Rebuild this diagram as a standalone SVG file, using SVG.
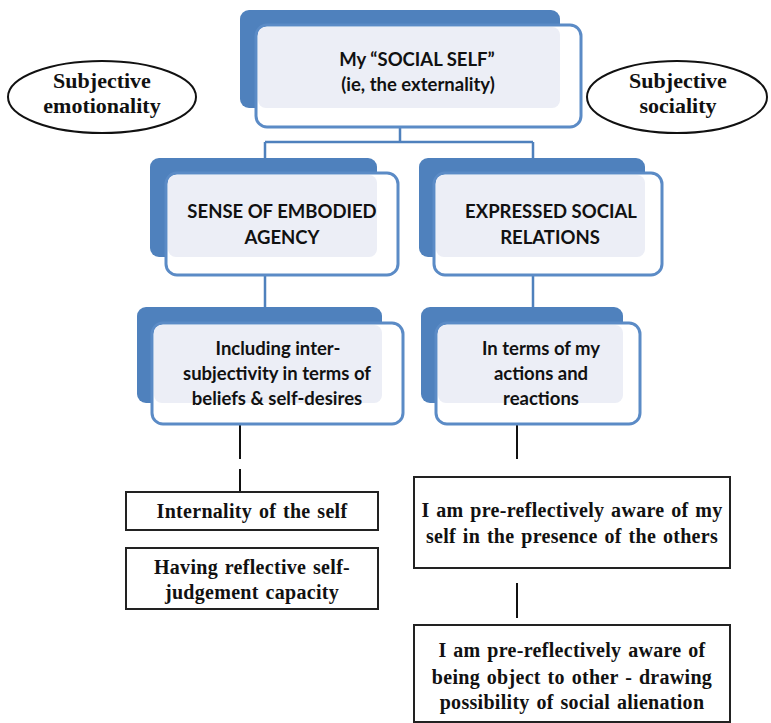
<svg xmlns="http://www.w3.org/2000/svg" width="771" height="723" viewBox="0 0 771 723">
<style>
.back{fill:#4f81bd}
.front{fill:#ffffff;stroke:#5b8bc6;stroke-width:3}
.tint{fill:#eceef6}
.conn{stroke:#4f81bd;stroke-width:2.5;fill:none}
.blk{stroke:#111;stroke-width:2;fill:none}
.box{fill:#fff;stroke:#222;stroke-width:2}
.ell{fill:#fff;stroke:#111;stroke-width:2}
.bt{font-family:Lato,"Open Sans","Liberation Sans",sans-serif;font-weight:bold;font-size:18.5px;fill:#111;text-anchor:middle}
.tt{font-family:"Liberation Serif","Times New Roman",serif;font-weight:bold;font-size:20px;letter-spacing:0.3px;word-spacing:1.5px;fill:#111;text-anchor:middle}
.et{font-family:"Liberation Serif","Times New Roman",serif;font-weight:bold;font-size:22px;fill:#111;text-anchor:middle}
</style>
<rect width="771" height="723" fill="#fff"/>
<g id="connectors">
<path class="conn" d="M400 127V142M265 142H533M265 142V160M533 142V160"/>
<path class="conn" d="M265 275V309M533 275V309"/>
<path class="blk" d="M240 424V459M240 469V492"/>
<path class="blk" d="M517 424V459M517 583V618"/>
</g>
<g id="social-self">
<rect class="back" x="240" y="10" width="320" height="98" rx="9"/>
<rect class="front" x="256" y="25" width="325" height="102" rx="11"/>
<rect class="tint" x="258" y="27" width="302" height="81" rx="8"/>
<text class="bt" x="417" y="66">My “SOCIAL SELF”</text>
<text class="bt" x="418" y="91">(ie, the externality)</text>
</g>
<g id="embodied-agency">
<rect class="back" x="150" y="158" width="227" height="99" rx="9"/>
<rect class="front" x="166" y="173" width="232" height="102" rx="11"/>
<rect class="tint" x="168" y="175" width="209" height="82" rx="8"/>
<text class="bt" x="282" y="218">SENSE OF EMBODIED</text>
<text class="bt" x="282" y="244">AGENCY</text>
</g>
<g id="social-relations">
<rect class="back" x="419" y="158" width="226" height="99" rx="9"/>
<rect class="front" x="434" y="173" width="228" height="102" rx="11"/>
<rect class="tint" x="436" y="175" width="209" height="82" rx="8"/>
<text class="bt" x="551" y="218">EXPRESSED SOCIAL</text>
<text class="bt" x="550" y="244">RELATIONS</text>
</g>
<g id="intersubjectivity">
<rect class="back" x="137" y="307" width="245" height="96" rx="9"/>
<rect class="front" x="152" y="323" width="251" height="101" rx="11"/>
<rect class="tint" x="154" y="325" width="228" height="78" rx="8"/>
<text class="bt" x="278" y="355">Including inter-</text>
<text class="bt" x="277" y="380">subjectivity in terms of</text>
<text class="bt" x="277" y="405">beliefs &amp; self-desires</text>
</g>
<g id="actions">
<rect class="back" x="421" y="307" width="202" height="96" rx="9"/>
<rect class="front" x="436" y="323" width="204" height="101" rx="11"/>
<rect class="tint" x="438" y="325" width="185" height="78" rx="8"/>
<text class="bt" x="541" y="355">In terms of my</text>
<text class="bt" x="541" y="380">actions and</text>
<text class="bt" x="541" y="405">reactions</text>
</g>
<g id="subjective-emotionality">
<ellipse class="ell" cx="102" cy="97" rx="94" ry="36"/>
<text class="et" x="102" y="88">Subjective</text>
<text class="et" x="102" y="113">emotionality</text>
</g>
<g id="subjective-sociality">
<ellipse class="ell" cx="677" cy="97" rx="90" ry="36"/>
<text class="et" x="678" y="88">Subjective</text>
<text class="et" x="678" y="113">sociality</text>
</g>
<g id="internality">
<rect class="box" x="126" y="492" width="252" height="38"/>
<text class="tt" x="252" y="518">Internality of the self</text>
</g>
<g id="reflective">
<rect class="box" x="126" y="548" width="252" height="61"/>
<text class="tt" x="252" y="574">Having reflective self-</text>
<text class="tt" x="252" y="599">judgement capacity</text>
</g>
<g id="pre-reflective-self">
<rect class="box" x="414" y="477" width="316" height="91"/>
<text class="tt" x="572" y="517">I am pre-reflectively aware of my</text>
<text class="tt" x="572" y="543">self in the presence of the others</text>
</g>
<g id="pre-reflective-object">
<rect class="box" x="414" y="625" width="316" height="97"/>
<text class="tt" x="572" y="657">I am pre-reflectively aware of</text>
<text class="tt" x="572" y="684">being object to other - drawing</text>
<text class="tt" x="572" y="709">possibility of social alienation</text>
</g>
</svg>
